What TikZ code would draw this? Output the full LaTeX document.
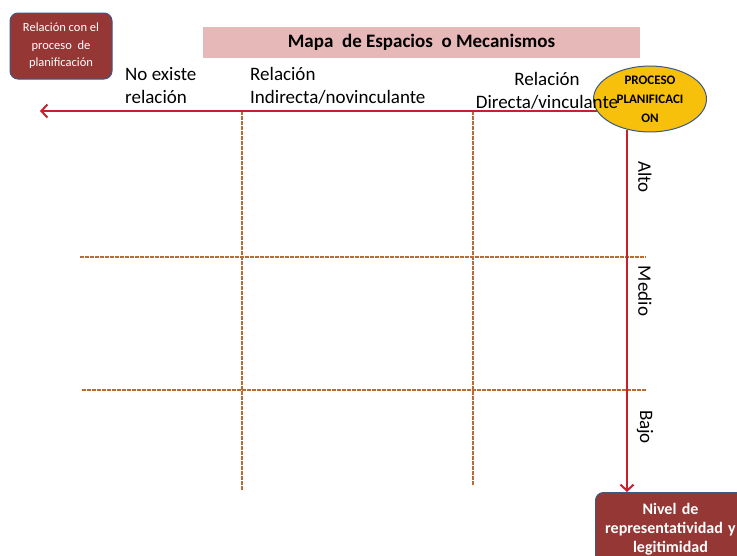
\documentclass[tikz,border=0pt]{standalone}
\usepackage{fontspec}
\setmainfont{Carlito}
\usetikzlibrary{shapes.geometric,arrows.meta}
\definecolor{darkred}{HTML}{953735}
\definecolor{boxborder}{HTML}{3A5A85}
\definecolor{titlepink}{HTML}{E6B9B8}
\definecolor{procyellow}{HTML}{F7C00A}
\definecolor{arrowred}{HTML}{C8202C}
\definecolor{dashbrown}{HTML}{BA6A32}
\tikzset{
  darkbox/.style={draw=boxborder, line width=1pt, fill=darkred, rounded corners=8pt, text=white, align=center, inner sep=2pt},
  redarrow/.style={draw=arrowred, line width=2pt, -{Straight Barb[length=6pt,width=13pt,line width=2pt]}},
  gridline/.style={draw=dashbrown, line width=1.1pt, dash pattern=on 3.5pt off 1.5pt},
  lbl/.style={font=\fontsize{19}{23}\selectfont, inner sep=0pt},
  sidelbl/.style={font=\fontsize{19}{22}\selectfont, rotate=-90, inner sep=0pt}
}
\begin{document}
\begin{tikzpicture}[x=1pt,y=-1pt]
\useasboundingbox (0,0) rectangle (737,555);
\clip (0,0) rectangle (737,555);
\fill[white] (0,0) rectangle (737,555);
% grid lines
\coordinate (v1top) at (242,111);
\coordinate (v1bot) at (242,490);
\coordinate (v2top) at (473,111);
\coordinate (v2bot) at (473,486);
\coordinate (h1l) at (80,257);
\coordinate (h1r) at (646,257);
\coordinate (h2l) at (82,390);
\coordinate (h2r) at (646,390);
\draw[gridline] (v1top) -- (v1bot);
\draw[gridline] (v2top) -- (v2bot);
\draw[gridline] (h1l) -- (h1r);
\draw[gridline] (h2l) -- (h2r);
% boxes
\node[darkbox, minimum width=102pt, minimum height=66pt, font=\fontsize{12.5}{17.5}\selectfont] (rel) at (61,46) {Relación con el\\proceso\ \ de\\planificación};
\node[fill=titlepink, minimum width=437pt, minimum height=31pt, font=\fontsize{19}{22}\selectfont\bfseries] (title) at (421.5,42.5) {Mapa\ \ de Espacios\ \ o Mecanismos};
\node[darkbox, anchor=north west, minimum width=150pt, text width=142pt, inner ysep=11pt, font=\fontsize{16}{19}\selectfont\bfseries] (nivel) at (595,492) {Nivel de\\representatividad y\\legitimidad};
% labels
\node[lbl, anchor=north west, align=left] (l1) at (125,67) {No existe\\relación};
\node[lbl, anchor=north west, align=left] (l2) at (250,67) {Relación\\Indirecta/novinculante};
% arrows
\coordinate (hstart) at (597,111);
\coordinate (hend) at (40,111);
\draw[redarrow] (hstart) -- (hend);
\node[ellipse, draw=boxborder, line width=1pt, fill=procyellow, minimum width=113pt, minimum height=65pt, align=center, inner sep=0pt, font=\fontsize{13}{19}\selectfont\bfseries] (proc) at (650,99) {PROCESO\\PLANIFICACI\\ON};
\node[lbl, anchor=north, align=center] (l3) at (547,72) {Relación\\Directa/vinculante};
\coordinate (vstart) at (627,130);
\draw[redarrow] (vstart) -- (vstart |- nivel.north);
% side labels
\node[sidelbl] (alto) at (645,177) {Alto};
\node[sidelbl] (medio) at (645,291) {Medio};
\node[sidelbl] (bajo) at (645,427) {Bajo};
\end{tikzpicture}
\end{document}
